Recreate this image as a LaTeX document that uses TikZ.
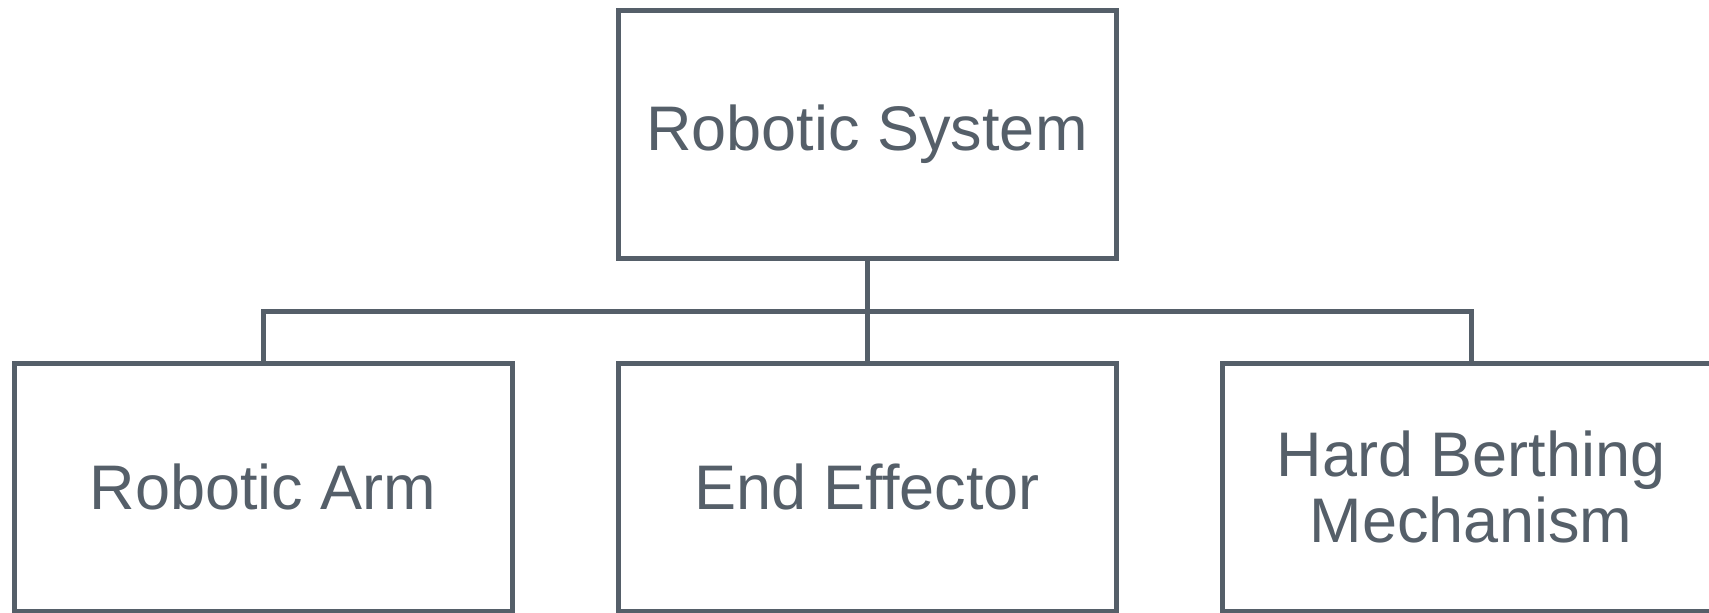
\documentclass[tikz,border=0pt]{standalone}
\usepackage{fontspec}
\setmainfont{Liberation Sans}
\usepackage{tikz}
\usepackage{xcolor}
\definecolor{boxgray}{RGB}{85,95,105}

\begin{document}
\begin{tikzpicture}[x=0.5pt, y=-0.5pt,
  box/.style={draw=boxgray, line width=2.5pt, text=boxgray, minimum width=249pt, minimum height=124pt, align=center, font=\fontsize{31.5}{33}\selectfont},
  link/.style={draw=boxgray, line width=2.5pt}]
\useasboundingbox (0,0) rectangle (1709,612);
\clip (0,0) rectangle (1709,612);
% Tree of the robotic system
\node[box] (sys) at (867,134) {Robotic System};
\node[box] (arm) at (263,487) {Robotic Arm};
\node[box] (eff) at (867,487) {End Effector};
\node[box] (hbm) at (1471,487) {Hard Berthing\\Mechanism};
\coordinate (bus) at (867,311);
\draw[link] (sys.south) -- (bus);
\draw[link] (arm.north) |- (bus) -| (hbm.north);
\draw[link] (bus) -- (eff.north);
\end{tikzpicture}
\end{document}
